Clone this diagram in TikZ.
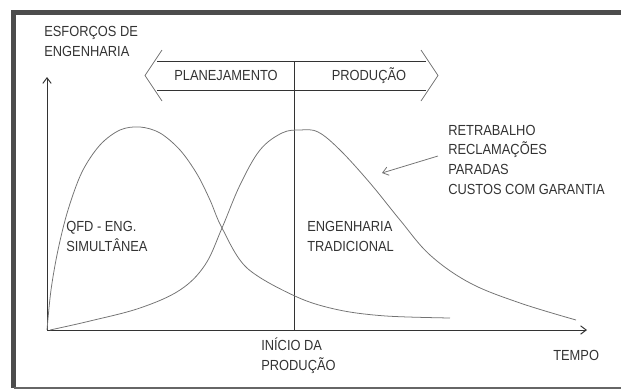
\documentclass[tikz,border=0pt]{standalone}
\usepackage{fontspec}
\setmainfont{Liberation Sans}[FakeStretch=0.88]
\usepackage{tikz}
\usetikzlibrary{positioning,arrows.meta}

\begin{document}
\begin{tikzpicture}[x=0.025cm, y=-0.025cm,
  txt/.style={font=\fontsize{10.4}{13.9}\selectfont, text=black!80, inner sep=0pt, anchor=base west, align=left},
  axis/.style={draw=black!80, line width=0.7pt},
  curve/.style={draw=black!55, line width=0.55pt},
  tip/.style={-{Straight Barb[length=4pt,width=6pt]}}]

\useasboundingbox (0,0) rectangle (621,390);

% frame
\draw[black!70, line width=3pt] (640,12.5) -- (13.5,12.5) -- (13.5,388);
\draw[black!60, line width=1.2pt] (13.5,388) -- (640,388);

% axes
\coordinate (origin) at (47,330);
\coordinate (ytop) at (47,77);
\coordinate (xend) at (587,330);
\draw[axis, tip] (origin) -- (ytop);
\draw[axis, tip] (origin) -- (xend);

% phase band
\coordinate (bandTL) at (157,61);
\coordinate (bandTR) at (426,61);
\coordinate (bandBL) at (157,90);
\coordinate (bandBR) at (426,90);
\coordinate (tipL) at (145,75.5);
\coordinate (tipR) at (438,75.5);
\draw[axis] (bandTL) -- (bandTR);
\draw[axis] (bandBL) -- (bandBR);
\draw[curve] (162,50) -- (tipL) -- (162,101);
\draw[curve] (421,50) -- (tipR) -- (421,101);

\coordinate (startProd) at (294,61);
\coordinate (startAxis) at (294,330);
\draw[axis] (startProd) -- (startAxis);

% effort curves
\draw[curve] plot[smooth, tension=0.55] coordinates {(47,330) (51,290) (58,250) (68,210) (82,172) (100,145) (120,130) (140,127) (160,133) (180,150) (197,174) (210,200) (222,228) (247,268) (297,297) (339,310) (386,316) (450,318)};
\draw[curve] plot[smooth, tension=0.6] coordinates {(50,330) (90,321) (140,308) (180,290) (205,265) (222,228) (240,185) (260,150) (282,133) (300,130) (318,132) (340,150) (370,183) (400,220) (430,255) (470,283) (520,303) (576,320)};

% labels
\node[txt] (esforcos) at (44,56) {ESFORÇOS DE\\ENGENHARIA};
\node[txt, anchor=base] (planejamento) at (226,80.5) {PLANEJAMENTO};
\node[txt, anchor=base] (producao) at (369,80.5) {PRODUÇÃO};
\node[txt] (qfd) at (66,251) {QFD - ENG.\\SIMULTÂNEA};
\node[txt] (tradicional) at (307,251) {ENGENHARIA\\TRADICIONAL};
\node[txt] (problemas) at (448,194) {RETRABALHO\\RECLAMAÇÕES\\PARADAS\\CUSTOS COM GARANTIA};
\node[txt] (inicio) at (261,370) {INÍCIO DA\\PRODUÇÃO};
\node[txt] (tempo) at (553,360) {TEMPO};

\coordinate (pointerTail) at (438,156);
\coordinate (pointerHead) at (382,173);
\draw[curve, tip] (pointerTail) -- (pointerHead);

\end{tikzpicture}
\end{document}
